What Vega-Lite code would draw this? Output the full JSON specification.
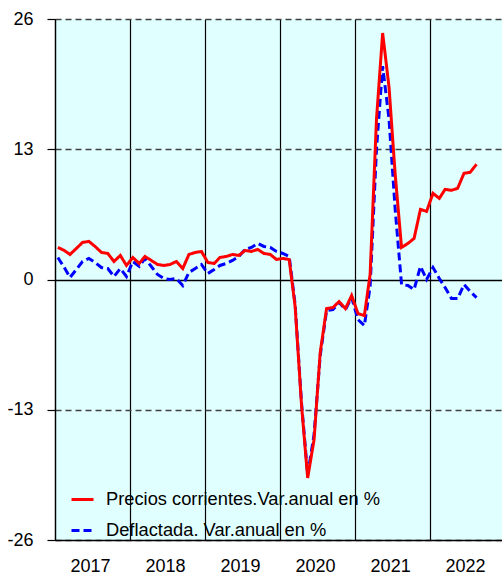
{
  "$schema": "https://vega.github.io/schema/vega-lite/v6.json",
  "width": 447,
  "height": 521,
  "autosize": {"type": "none"},
  "padding": {"left": 55, "top": 19, "right": 0, "bottom": 34},
  "background": "white",
  "config": {
    "font": "Liberation Sans",
    "view": {"stroke": null, "fill": "#e0ffff"}
  },
  "data": {
    "values": [
      {"fecha": "2017-01-15", "precios": 3.2, "deflactada": 2.2},
      {"fecha": "2017-02-15", "precios": 2.9, "deflactada": 1.2},
      {"fecha": "2017-03-15", "precios": 2.5, "deflactada": 0.2},
      {"fecha": "2017-04-15", "precios": 3.1, "deflactada": 1.0},
      {"fecha": "2017-05-15", "precios": 3.7, "deflactada": 1.8},
      {"fecha": "2017-06-15", "precios": 3.8, "deflactada": 2.1},
      {"fecha": "2017-07-15", "precios": 3.3, "deflactada": 1.7},
      {"fecha": "2017-08-15", "precios": 2.7, "deflactada": 1.2},
      {"fecha": "2017-09-15", "precios": 2.6, "deflactada": 1.1},
      {"fecha": "2017-10-15", "precios": 1.8, "deflactada": 0.3},
      {"fecha": "2017-11-15", "precios": 2.4, "deflactada": 1.1},
      {"fecha": "2017-12-15", "precios": 1.4, "deflactada": 0.3},
      {"fecha": "2018-01-15", "precios": 2.2, "deflactada": 1.8},
      {"fecha": "2018-02-15", "precios": 1.6, "deflactada": 1.3},
      {"fecha": "2018-03-15", "precios": 2.3, "deflactada": 2.1},
      {"fecha": "2018-04-15", "precios": 1.9, "deflactada": 1.3},
      {"fecha": "2018-05-15", "precios": 1.5, "deflactada": 0.5},
      {"fecha": "2018-06-15", "precios": 1.4, "deflactada": 0.1},
      {"fecha": "2018-07-15", "precios": 1.5, "deflactada": 0.0},
      {"fecha": "2018-08-15", "precios": 1.8, "deflactada": 0.1},
      {"fecha": "2018-09-15", "precios": 1.1, "deflactada": -0.6},
      {"fecha": "2018-10-15", "precios": 2.5, "deflactada": 0.7},
      {"fecha": "2018-11-15", "precios": 2.7, "deflactada": 1.1},
      {"fecha": "2018-12-15", "precios": 2.8, "deflactada": 1.5},
      {"fecha": "2019-01-15", "precios": 1.7, "deflactada": 0.6},
      {"fecha": "2019-02-15", "precios": 1.6, "deflactada": 1.0},
      {"fecha": "2019-03-15", "precios": 2.2, "deflactada": 1.4},
      {"fecha": "2019-04-15", "precios": 2.3, "deflactada": 1.6},
      {"fecha": "2019-05-15", "precios": 2.5, "deflactada": 1.9},
      {"fecha": "2019-06-15", "precios": 2.4, "deflactada": 2.3},
      {"fecha": "2019-07-15", "precios": 2.9, "deflactada": 3.0},
      {"fecha": "2019-08-15", "precios": 2.8, "deflactada": 3.2},
      {"fecha": "2019-09-15", "precios": 3.0, "deflactada": 3.6},
      {"fecha": "2019-10-15", "precios": 2.6, "deflactada": 3.3},
      {"fecha": "2019-11-15", "precios": 2.5, "deflactada": 3.2},
      {"fecha": "2019-12-15", "precios": 2.0, "deflactada": 2.8},
      {"fecha": "2020-01-15", "precios": 2.1, "deflactada": 2.6},
      {"fecha": "2020-02-15", "precios": 2.0, "deflactada": 2.3},
      {"fecha": "2020-03-15", "precios": -2.7, "deflactada": -2.5},
      {"fecha": "2020-04-15", "precios": -12.5, "deflactada": -12.3},
      {"fecha": "2020-05-15", "precios": -19.8, "deflactada": -19.5},
      {"fecha": "2020-06-15", "precios": -16.0, "deflactada": -15.5},
      {"fecha": "2020-07-15", "precios": -7.3, "deflactada": -7.6},
      {"fecha": "2020-08-15", "precios": -2.9, "deflactada": -3.1},
      {"fecha": "2020-09-15", "precios": -2.8, "deflactada": -3.0},
      {"fecha": "2020-10-15", "precios": -2.2, "deflactada": -2.3},
      {"fecha": "2020-11-15", "precios": -2.9, "deflactada": -3.0},
      {"fecha": "2020-12-15", "precios": -1.6, "deflactada": -1.8},
      {"fecha": "2021-01-15", "precios": -3.4, "deflactada": -4.0},
      {"fecha": "2021-02-15", "precios": -3.6, "deflactada": -4.6},
      {"fecha": "2021-03-15", "precios": 0.5, "deflactada": -0.7},
      {"fecha": "2021-04-15", "precios": 16.0, "deflactada": 13.0},
      {"fecha": "2021-05-15", "precios": 24.6, "deflactada": 21.3},
      {"fecha": "2021-06-15", "precios": 19.2, "deflactada": 16.0},
      {"fecha": "2021-07-15", "precios": 10.5, "deflactada": 7.0},
      {"fecha": "2021-08-15", "precios": 3.2, "deflactada": -0.5},
      {"fecha": "2021-09-15", "precios": 3.6, "deflactada": -0.6},
      {"fecha": "2021-10-15", "precios": 4.1, "deflactada": -1.0},
      {"fecha": "2021-11-15", "precios": 7.0, "deflactada": 1.3},
      {"fecha": "2021-12-15", "precios": 6.8, "deflactada": 0.0},
      {"fecha": "2022-01-15", "precios": 8.6, "deflactada": 1.2},
      {"fecha": "2022-02-15", "precios": 8.1, "deflactada": 0.1},
      {"fecha": "2022-03-15", "precios": 9.0, "deflactada": -0.8},
      {"fecha": "2022-04-15", "precios": 8.9, "deflactada": -1.9},
      {"fecha": "2022-05-15", "precios": 9.1, "deflactada": -1.9},
      {"fecha": "2022-06-15", "precios": 10.6, "deflactada": -0.5},
      {"fecha": "2022-07-15", "precios": 10.7, "deflactada": -1.2},
      {"fecha": "2022-08-15", "precios": 11.5, "deflactada": -1.8}
    ]
  },
  "encoding": {
    "x": {
      "field": "fecha",
      "type": "temporal",
      "scale": {
        "type": "utc",
        "domain": [
          {"year": 2017, "month": 1, "date": 1, "utc": true},
          {"year": 2022, "month": 12, "date": 17, "utc": true}
        ]
      },
      "axis": {
        "title": null,
        "values": [
          {"year": 2017, "month": 1, "date": 1, "utc": true},
          {"year": 2018, "month": 1, "date": 1, "utc": true},
          {"year": 2019, "month": 1, "date": 1, "utc": true},
          {"year": 2020, "month": 1, "date": 1, "utc": true},
          {"year": 2021, "month": 1, "date": 1, "utc": true},
          {"year": 2022, "month": 1, "date": 1, "utc": true}
        ],
        "format": "%Y",
        "formatType": "utc",
        "labelOffset": 35,
        "labelAlign": "center",
        "labelFlush": false,
        "labelOverlap": false,
        "labelPadding": 17,
        "labelFontSize": 18,
        "labelColor": "#000",
        "ticks": false,
        "domainColor": "#000",
        "domainWidth": 1.3,
        "grid": true,
        "gridColor": "#000",
        "gridWidth": 1.2
      }
    }
  },
  "layer": [
    {
      "mark": {"type": "line", "strokeWidth": 3},
      "encoding": {
        "y": {
          "field": "deflactada",
          "type": "quantitative",
          "scale": {"domain": [-26, 26], "nice": false, "zero": false},
          "axis": {
            "title": null,
            "values": [-26, -13, 0, 13, 26],
            "labelExpr": "'' + datum.value",
            "labelFontSize": 18,
            "labelColor": "#000",
            "labelPadding": 14,
            "tickSize": 8,
            "tickColor": "#000",
            "tickWidth": 1.2,
            "domainColor": "#000",
            "domainWidth": 1.3,
            "grid": true,
            "gridColor": {"condition": {"test": "datum.value === 0", "value": "#000"}, "value": "#404040"},
            "gridDash": {"condition": {"test": "datum.value === 0", "value": [1, 0]}, "value": [6, 4]},
            "gridWidth": {"condition": {"test": "datum.value === 0", "value": 1.3}, "value": 1.6}
          }
        },
        "color": {
          "datum": "Deflactada. Var.anual en %",
          "type": "nominal",
          "scale": {
            "domain": ["Precios corrientes.Var.anual en %", "Deflactada. Var.anual en %"],
            "range": ["#ff0000", "#0000ff"]
          },
          "legend": {
            "title": null,
            "orient": "none",
            "legendX": 15,
            "legendY": 468,
            "padding": 0,
            "symbolType": "stroke",
            "symbolSize": 484,
            "symbolStrokeWidth": 3,
            "labelFontSize": 18.3,
            "labelColor": "#000",
            "labelOffset": 11,
            "rowPadding": 10,
            "labelLimit": 400
          }
        },
        "strokeDash": {
          "datum": "Deflactada. Var.anual en %",
          "type": "nominal",
          "scale": {
            "domain": ["Precios corrientes.Var.anual en %", "Deflactada. Var.anual en %"],
            "range": [[1, 0], [8, 4]]
          },
          "legend": {
            "title": null,
            "orient": "none",
            "legendX": 15,
            "legendY": 468,
            "padding": 0,
            "symbolType": "stroke",
            "symbolSize": 484,
            "symbolStrokeWidth": 3,
            "labelFontSize": 18.3,
            "labelColor": "#000",
            "labelOffset": 11,
            "rowPadding": 10,
            "labelLimit": 400
          }
        }
      }
    },
    {
      "mark": {"type": "line", "strokeWidth": 3},
      "encoding": {
        "y": {"field": "precios", "type": "quantitative"},
        "color": {"datum": "Precios corrientes.Var.anual en %", "type": "nominal"},
        "strokeDash": {"datum": "Precios corrientes.Var.anual en %", "type": "nominal"}
      }
    }
  ]
}
